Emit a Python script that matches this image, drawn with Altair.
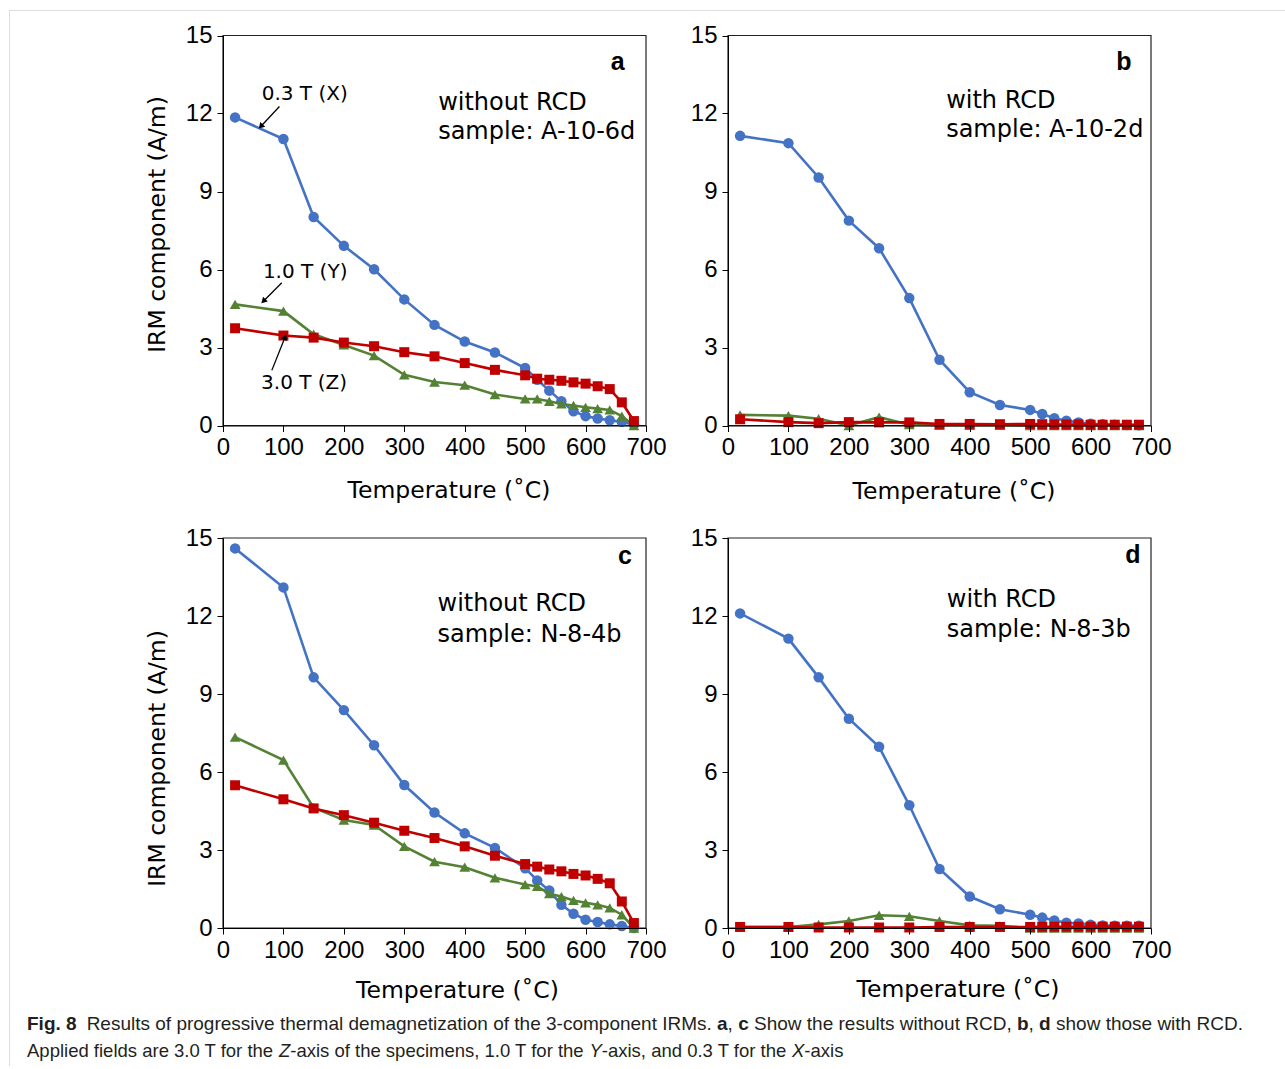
import altair as alt
import pandas as pd

# ---------------- data ----------------
temps = [20, 100, 150, 200, 250, 300, 350, 400, 450, 500,
         520, 540, 560, 580, 600, 620, 640, 660, 680]

series_names = ["0.3 T (X)", "1.0 T (Y)", "3.0 T (Z)"]

a_x = [11.85, 11.02, 8.02, 6.91, 6.01, 4.85, 3.87, 3.23, 2.81, 2.21,
       1.76, 1.34, 0.93, 0.55, 0.36, 0.27, 0.20, 0.14, 0.04]
a_y = [4.66, 4.40, 3.51, 3.10, 2.69, 1.95, 1.67, 1.55, 1.19, 1.02,
       1.02, 0.93, 0.83, 0.77, 0.70, 0.65, 0.60, 0.36, 0.0]
a_z = [3.74, 3.46, 3.38, 3.19, 3.05, 2.82, 2.66, 2.40, 2.14, 1.93,
       1.80, 1.76, 1.72, 1.66, 1.61, 1.51, 1.40, 0.89, 0.17]

b_x = [11.14, 10.86, 9.54, 7.88, 6.82, 4.90, 2.53, 1.28, 0.79, 0.60,
       0.44, 0.28, 0.18, 0.12, 0.07, 0.05, 0.03, 0.02, 0.01]
b_y = [0.41, 0.38, 0.26, 0.0, 0.32, 0.03, 0.01, 0.01, 0.01, 0.0,
       0.0, 0.0, 0.0, 0.0, 0.0, 0.0, 0.0, 0.0, 0.0]
b_z = [0.24, 0.13, 0.09, 0.13, 0.12, 0.12, 0.06, 0.06, 0.05, 0.06,
       0.05, 0.04, 0.04, 0.04, 0.03, 0.03, 0.03, 0.03, 0.03]

c_x = [14.6, 13.1, 9.64, 8.38, 7.03, 5.50, 4.44, 3.64, 3.08, 2.30,
       1.83, 1.44, 0.89, 0.55, 0.32, 0.23, 0.14, 0.08, 0.0]
c_y = [7.34, 6.46, 4.63, 4.15, 3.96, 3.14, 2.55, 2.34, 1.93, 1.67,
       1.60, 1.32, 1.21, 1.06, 0.97, 0.89, 0.77, 0.51, 0.0]
c_z = [5.49, 4.95, 4.60, 4.34, 4.05, 3.74, 3.46, 3.14, 2.78, 2.46,
       2.36, 2.25, 2.18, 2.08, 2.02, 1.89, 1.72, 1.02, 0.19]

d_x = [12.1, 11.13, 9.64, 8.05, 6.97, 4.72, 2.27, 1.21, 0.72, 0.51,
       0.40, 0.29, 0.20, 0.17, 0.13, 0.10, 0.09, 0.09, 0.09]
d_y = [0.04, 0.04, 0.14, 0.27, 0.49, 0.45, 0.27, 0.10, 0.08, 0.0,
       0.0, 0.0, 0.0, 0.0, 0.0, 0.0, 0.0, 0.0, 0.0]
d_z = [0.04, 0.04, 0.02, 0.02, 0.02, 0.02, 0.04, 0.04, 0.04, 0.04,
       0.05, 0.05, 0.05, 0.05, 0.05, 0.05, 0.05, 0.05, 0.05]

panel_series = [(a_x, a_y, a_z), (b_x, b_y, b_z), (c_x, c_y, c_z), (d_x, d_y, d_z)]
panel_letters = ["a", "b", "c", "d"]
panel_cond = ["without RCD", "with RCD", "without RCD", "with RCD"]
panel_sample = ["sample: A-10-6d", "sample: A-10-2d", "sample: N-8-4b", "sample: N-8-3b"]

x_ticks = [0, 100, 200, 300, 400, 500, 600, 700]
y_ticks = [0, 3, 6, 9, 12, 15]
x_domain = [0, 700]
y_domain = [0, 15]
x_title = "Temperature (˚C)"
y_title = "IRM component (A/m)"

# annotation anchors (data units of each panel)
letter_pos = [(653, 14.0), (655, 14.0), (665, 14.3), (670, 14.35)]
cond_pos = [(356, 12.42, 11.27), (361, 12.5, 11.35), (355, 12.47, 11.28), (362, 12.62, 11.47)]
ann_text_pos = [(64, 12.75), (66, 5.9), (63, 1.65)]
ann_tail = [(93.4, 12.27), (97.3, 5.49), (80.8, 2.12)]
ann_head = [(62.5, 11.5), (66.8, 4.78), (102.8, 3.40)]
ann_angle = [223, 225, 22]

caption_line1 = [("Fig. 8", "bold"),
                 ("Results of progressive thermal demagnetization of the 3-component IRMs. ", "normal"),
                 ("a", "bold"), (", ", "normal"), ("c", "bold"),
                 (" Show the results without RCD, ", "normal"),
                 ("b", "bold"), (", ", "normal"), ("d", "bold"),
                 (" show those with RCD.", "normal")]
caption_line2 = [("Applied fields are 3.0 T for the ", "normal"), ("Z", "italic"),
                 ("-axis of the specimens, 1.0 T for the ", "normal"), ("Y", "italic"),
                 ("-axis, and 0.3 T for the ", "normal"), ("X", "italic"),
                 ("-axis", "normal")]

# ---------------- styling / layout ----------------
COLORS = ["#4472C4", "#548235", "#C00000"]
SHAPES = ["circle", "triangle-up", "square"]
SIZES = [110, 115, 100]
TICK_FONT = "Liberation Sans"
TEXT_FONT = "DejaVu Sans"
CAP_FONT = "Liberation Sans"
CAP_COLOR = "#231f20"

VIEW_W, VIEW_H = 1276, 1056
PAD_L, PAD_T = 9, 10
COL_LEFT = [214, 719]
ROW_TOP = [25.5, 528]
PW, PH = 423, 390
# axis-title centres (page pixels)
XT_CENTER = [(448.5, 490), (953.5, 491), (457, 990), (957.5, 989)]
YT_CENTER = [(157, 224), None, (157, 758), None]

# Arial / Liberation Sans advance widths (per 1000 em) for caption layout
_W_REG = {" ": 278, ",": 278, "-": 333, ".": 278, "A": 667, "C": 722, "D": 722, "I": 278,
          "M": 833, "R": 722, "S": 667, "T": 611, "X": 667, "Y": 667, "Z": 611, "F": 611,
          "a": 556, "b": 556, "c": 500, "d": 556, "e": 556, "f": 278, "g": 556, "h": 556,
          "i": 222, "j": 222, "k": 500, "l": 222, "m": 833, "n": 556, "o": 556, "p": 556,
          "q": 556, "r": 333, "s": 500, "t": 278, "u": 556, "v": 500, "w": 722, "x": 500,
          "y": 500, "z": 500}
_W_BOLD = dict(_W_REG, **{"b": 611, "c": 556, "d": 611, "g": 611, "i": 278, "F": 611})


def text_w(s, size, style):
    tab = _W_BOLD if style == "bold" else _W_REG
    return sum(tab.get(ch, 556) for ch in s) * size / 1000.0


def panel(i):
    col, row = i % 2, i // 2
    x0, y0 = COL_LEFT[col], ROW_TOP[row]
    xs = alt.Scale(domain=x_domain, range=[x0, x0 + PW], nice=False, zero=False)
    ys = alt.Scale(domain=y_domain, range=[y0 + PH, y0], nice=False, zero=False)
    common = dict(domainColor="black", domainWidth=1, tickColor="black", tickWidth=1,
                  tickSize=6, labelFont=TICK_FONT, labelFontSize=24, labelColor="black",
                  grid=False, titleFont=TEXT_FONT, titleFontSize=23.5,
                  titleFontWeight="normal", titleColor="black", labelOverlap=False,
                  titleBaseline="middle", titleAlign="center", zindex=1)
    xc, yc = XT_CENTER[i]
    xaxis = alt.Axis(orient="bottom", offset=(y0 + PH) - VIEW_H, values=x_ticks,
                     title=x_title, labelFlush=False, labelPadding=4,
                     titleX=xc - PAD_L, titleY=yc - PAD_T - (y0 + PH), **common)
    if YT_CENTER[i] is not None:
        tx, ty = YT_CENTER[i]
        yaxis = alt.Axis(orient="left", offset=-x0, values=y_ticks, title=y_title,
                         labelPadding=5, titleX=tx - PAD_L - x0, titleY=ty - PAD_T, **common)
    else:
        yaxis = alt.Axis(orient="left", offset=-x0, values=y_ticks, title="",
                         labelPadding=5, **common)

    def X(f, axis=None):
        return alt.X(f, scale=xs, axis=axis)

    def Y(f, axis=None):
        return alt.Y(f, scale=ys, axis=axis)

    units = []
    box = alt.Chart(pd.DataFrame({"x0": [x_domain[0]], "x1": [x_domain[1]],
                                  "y0": [y_domain[0]], "y1": [y_domain[1]]})).mark_rect(
        fillOpacity=0, stroke="#222222", strokeWidth=1.2
    ).encode(x=X("x0:Q", xaxis), x2="x1:Q", y=Y("y0:Q", yaxis), y2="y1:Q")
    units.append(box)

    for k in range(3):
        df = pd.DataFrame({"T": temps, "V": panel_series[i][k], "S": series_names[k]})
        units.append(alt.Chart(df).mark_line(color=COLORS[k], strokeWidth=2.6).encode(
            x=X("T:Q"), y=Y("V:Q")))
        units.append(alt.Chart(df).mark_point(shape=SHAPES[k], filled=True, size=SIZES[k],
                                              color=COLORS[k], opacity=1).encode(
            x=X("T:Q"), y=Y("V:Q")))

    lx, ly = letter_pos[i]
    units.append(alt.Chart(pd.DataFrame({"t": [lx], "v": [ly], "s": [panel_letters[i]]})).mark_text(
        font="Liberation Sans", fontWeight="bold", fontSize=25, color="black",
        align="center", baseline="middle"
    ).encode(x=X("t:Q"), y=Y("v:Q"), text="s:N"))

    cx, cy1, cy2 = cond_pos[i]
    units.append(alt.Chart(pd.DataFrame({"t": [cx, cx], "v": [cy1, cy2],
                                         "s": [panel_cond[i], panel_sample[i]]})).mark_text(
        font=TEXT_FONT, fontSize=24, color="black", align="left", baseline="middle"
    ).encode(x=X("t:Q"), y=Y("v:Q"), text="s:N"))

    if i == 0:
        units.append(alt.Chart(pd.DataFrame({
            "t": [p[0] for p in ann_text_pos], "v": [p[1] for p in ann_text_pos],
            "s": series_names})).mark_text(
            font=TEXT_FONT, fontSize=20, color="black", align="left", baseline="middle"
        ).encode(x=X("t:Q"), y=Y("v:Q"), text="s:N"))
        arr = pd.DataFrame({
            "t1": [p[0] for p in ann_tail], "v1": [p[1] for p in ann_tail],
            "t2": [p[0] for p in ann_head], "v2": [p[1] for p in ann_head],
            "ang": ann_angle})
        units.append(alt.Chart(arr).mark_rule(color="black", strokeWidth=1.3).encode(
            x=X("t1:Q"), y=Y("v1:Q"), x2="t2:Q", y2="v2:Q"))
        units.append(alt.Chart(arr).mark_point(shape="triangle-up", filled=True, size=45,
                                               color="black", opacity=1).encode(
            x=X("t2:Q"), y=Y("v2:Q"), angle=alt.Angle("ang:Q", scale=None)))
    return units


def caption(segments, x_start, y, size, first_gap=0.0):
    units = []
    x = x_start
    for j, (txt, style) in enumerate(segments):
        lead = len(txt) - len(txt.lstrip(" "))
        shown = txt.strip(" ")
        kw = dict(font=CAP_FONT, fontSize=size, color=CAP_COLOR, align="left", baseline="middle")
        if style == "bold":
            kw["fontWeight"] = "bold"
        elif style == "italic":
            kw["fontStyle"] = "italic"
        px = x + text_w(txt[:lead], size, style)
        units.append(alt.Chart(pd.DataFrame({"s": [shown]})).mark_text(**kw).encode(
            x=alt.value(px), y=alt.value(y), text="s:N"))
        x += text_w(txt, size, style)
        if j == 0:
            x += first_gap
    return units


all_units = []
for i in range(4):
    all_units.extend(panel(i))

all_units.extend(caption(caption_line1, 27 - PAD_L, 1024 - PAD_T, 19, first_gap=10))
all_units.extend(caption(caption_line2, 27 - PAD_L, 1051 - PAD_T, 18.5))

chart = alt.layer(*all_units).resolve_scale(
    x="independent", y="independent"
).resolve_axis(
    x="independent", y="independent"
).properties(
    width=VIEW_W, height=VIEW_H,
    autosize=alt.AutoSizeParams(type="none"),
    padding={"left": PAD_L, "top": PAD_T, "right": 0, "bottom": 0},
).configure_view(
    stroke="#8a8a8a", strokeWidth=1.5, cornerRadius=9, fill="white"
).configure(background="white")

chart.save("out.html", embed_options={"renderer": "svg", "actions": False})
